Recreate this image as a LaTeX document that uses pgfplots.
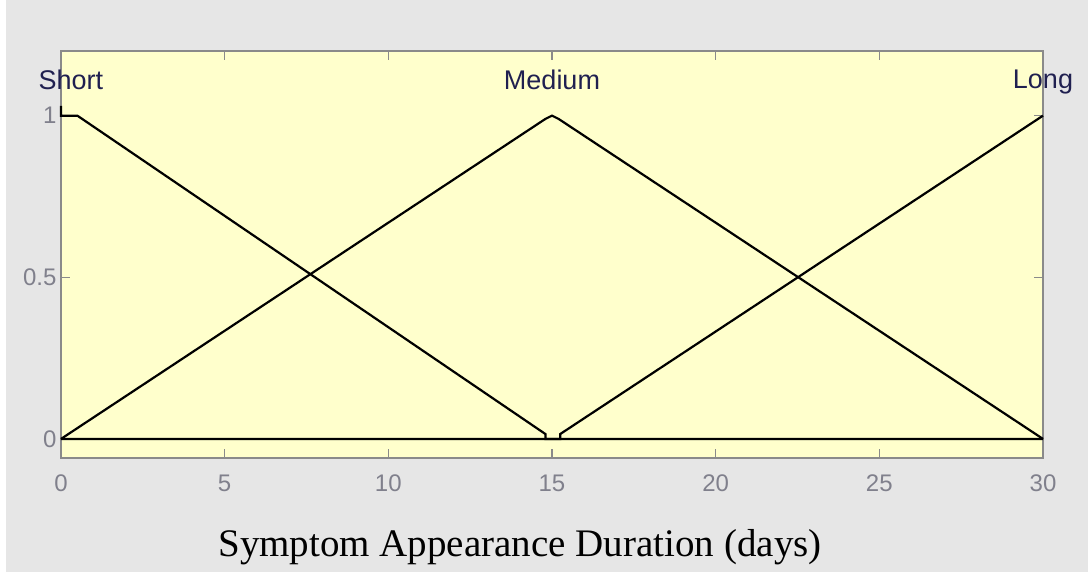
\documentclass[border=0pt]{standalone}
\usepackage{fontspec}
\setmainfont{Liberation Sans}
\newfontfamily\timesfont{Liberation Serif}
\usepackage{pgfplots}
\pgfplotsset{compat=1.18}
\definecolor{figbg}{HTML}{E6E6E6}
\definecolor{axbg}{HTML}{FFFFCC}
\definecolor{frame}{HTML}{8A8A8A}
\definecolor{ticktext}{HTML}{80808C}
\definecolor{mftext}{HTML}{202050}
\begin{document}
\begin{tikzpicture}
\path[use as bounding box] (0,0) rectangle (1088pt,573pt);
\fill[white] (0,0) rectangle (1088pt,573pt);
\fill[figbg] (6pt,1pt) rectangle (1088pt,573pt);
\begin{axis}[
  at={(61pt,115pt)}, anchor=south west,
  scale only axis, width=982pt, height=407pt,
  xmin=0, xmax=30, ymin=-0.059, ymax=1.2,
  xtick={0,5,...,30}, ytick={0,0.5,1},
  axis background/.style={fill=axbg},
  axis line style={frame, line width=1.2pt},
  tick style={frame, line width=1.2pt},
  major tick length=9pt,
  tick align=inside,
  /pgf/number format/assume math mode=true,
  ticklabel style={font=\fontsize{24}{28}\selectfont, text=ticktext},
  xticklabel style={yshift=-13pt},
  yticklabel style={xshift=-1pt},
  xlabel={\timesfont\fontsize{39}{44}\selectfont Symptom Appearance Duration (days)},
  xlabel style={at={(axis description cs:0.4674,0)}, anchor=base, yshift=-99pt, text=black},
  clip=false,
]
% Short
\addplot[black, line width=2.2pt] coordinates {(0,1.03) (0,1) (0.5,1) (14.8,0.015) (14.8,0) (30,0)};
% Medium
\addplot[black, line width=2.2pt] coordinates {(0,0) (14.8,0.99) (15,1) (15.2,0.99) (30,0)};
% Long
\addplot[black, line width=2.2pt] coordinates {(0,0) (15.25,0) (15.25,0.015) (30,1)};
\node[text=mftext, font=\fontsize{27}{30}\selectfont] at (axis cs:0.3,1.11) {Short};
\node[text=mftext, font=\fontsize{27}{30}\selectfont] at (axis cs:15,1.11) {Medium};
\node[text=mftext, font=\fontsize{27}{30}\selectfont] at (axis cs:30,1.105) {Long};
\end{axis}
\end{tikzpicture}
\end{document}
